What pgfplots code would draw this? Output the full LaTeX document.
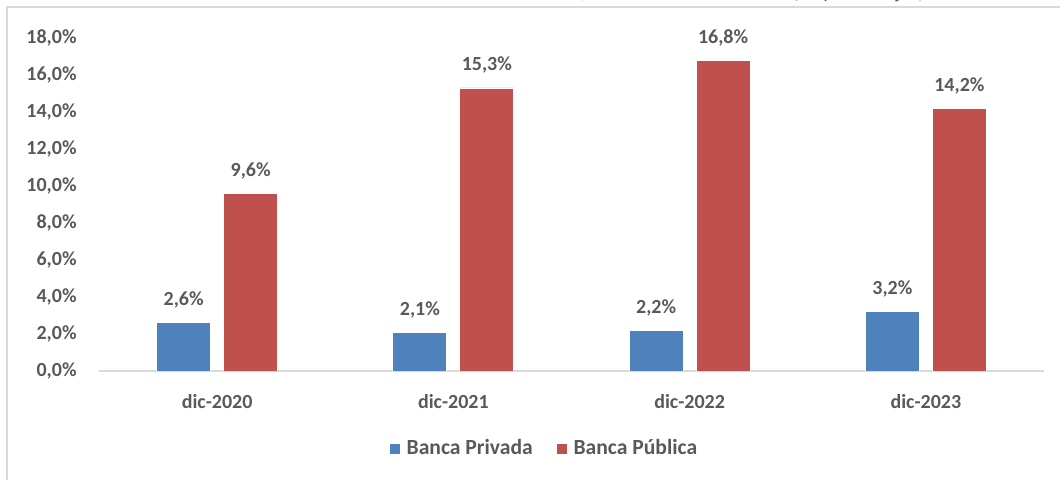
\documentclass[border=0pt]{standalone}
\usepackage{pgfplots}
\pgfplotsset{compat=1.18}
\usepackage{fontspec}
\setmainfont{Carlito}

\definecolor{privada}{HTML}{4F81BD}
\definecolor{publica}{HTML}{C0504D}
\definecolor{txt}{HTML}{595959}
\definecolor{marco}{HTML}{D9D9D9}

\begin{document}
\begin{tikzpicture}
\useasboundingbox (0,0) rectangle (530pt,240pt);
% chart frame (continues past the right and bottom edge)
\draw[marco, line width=1pt] (3.5pt,-5pt) -- (3.5pt,236.5pt) -- (540pt,236.5pt);
% title, cut off at the top edge
\node[anchor=base, txt, font=\fontsize{10}{12}\selectfont, inner sep=0pt]
  at (282pt,240.6pt) {Gráfico N° 8: Índice de Morosidad consolidado, a diciembre de cada año (en porcentajes)};

\begin{axis}[
    at={(49.5pt,54.5pt)}, anchor=south west,
    scale only axis, width=472.5pt, height=166.5pt,
    xmin=-0.5, xmax=3.5,
    ymin=0, ymax=18,
    ybar=6.5pt, bar width=27pt,
    xtick={0,1,2,3},
    xticklabels={dic-2020,dic-2021,dic-2022,dic-2023},
    ytick={0,2,...,18},
    major tick length=0pt,
    axis x line*=bottom, axis y line*=left,
    x axis line style={marco, line width=1pt, -},
    y axis line style={draw=none},
    /pgf/number format/.cd, fixed, fixed zerofill, precision=1, use comma, assume math mode=true,
    /pgfplots/.cd,
    yticklabel={\pgfmathprintnumber{\tick}\%},
    yticklabel style={anchor=east, inner sep=0pt, xshift=-11pt,
        font=\fontsize{10}{12}\selectfont\bfseries, text=txt},
    xticklabel style={anchor=north, inner sep=0pt, yshift=-11.5pt,
        font=\fontsize{10}{12}\selectfont\bfseries, text=txt},
    nodes near coords={\pgfmathprintnumber{\pgfplotspointmeta}\%},
    every node near coord/.append style={anchor=south, inner sep=0pt, yshift=7pt,
        font=\fontsize{10}{12}\selectfont\bfseries, text=txt},
    legend columns=2,
    legend image code/.code={\fill[#1] (0pt,-2.75pt) rectangle (5.5pt,2.75pt);},
    legend style={at={(0.472,-0.234)}, anchor=center, draw=none, fill=none,
        font=\fontsize{10.8}{13}\selectfont\bfseries, text=txt,
        /tikz/every odd column/.append style={column sep=1pt},
        /tikz/every even column/.append style={column sep=9.5pt}},
]
\addplot[fill=privada, draw=white, line width=0.4pt] coordinates {
    (0, 2.6) (1, 2.1) (2, 2.2) (3, 3.2)
};
\addplot[fill=publica, draw=white, line width=0.4pt] coordinates {
    (0, 9.6) (1, 15.3) (2, 16.8) (3, 14.2)
};
\legend{Banca Privada, Banca Pública}
\end{axis}
\end{tikzpicture}
\end{document}
